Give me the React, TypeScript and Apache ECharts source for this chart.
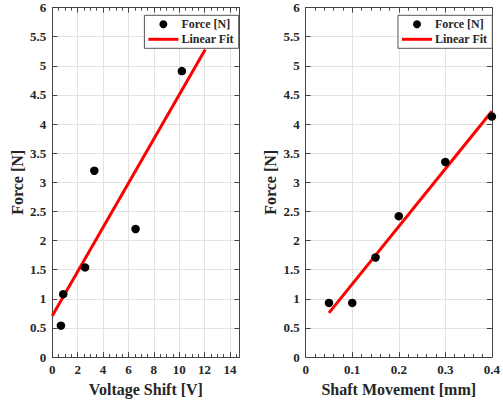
import React, { useEffect, useRef } from "react";
import * as echarts from "echarts";

// Left panel: Force vs Voltage Shift
const voltX = [0.68, 0.86, 2.58, 3.31, 6.56, 10.21];
const voltForce = [0.54, 1.08, 1.54, 3.2, 2.2, 4.91];
const voltFitX = [0, 12.05];
const voltFitY = [0.71, 5.28];
const voltMarkX = [0.55, 2.58, 4.48, 6.93, 8.99];
const voltMarkY = [0.93, 1.7, 2.41, 3.34, 4.13];

// Right panel: Force vs Shaft Movement
const shaftX = [0.05, 0.1, 0.15, 0.2, 0.3, 0.4];
const shaftForce = [0.93, 0.93, 1.71, 2.42, 3.35, 4.13];
const shaftFitX = [0.05, 0.4];
const shaftFitY = [0.76, 4.22];

const legendNames = ["Force [N]", "Linear Fit"];
const yTicks = { min: 0, max: 6, interval: 0.5 };

const FONT = "'Liberation Serif', 'Times New Roman', serif";
const TXT = "#262626";
const AX = "#444444";
const GRID = "#e2e2e2";

const pairs = (xs: number[], ys: number[]) => xs.map((x, i) => [x, ys[i]]);

export default function App() {
  const ref = useRef<HTMLDivElement>(null);
  useEffect(() => {
    if (!ref.current) return;
    const chart = echarts.init(ref.current, null, { renderer: "svg" });
    const grids = [
      { left: 52.3, top: 7.6, width: 187.2, height: 351.7 },
      { left: 305.7, top: 7.6, width: 192.6, height: 351.7 },
    ];
    const labelStyle = { color: TXT, fontFamily: FONT, fontWeight: "bold" as const, fontSize: 13 };
    const nameStyle = { color: TXT, fontFamily: FONT, fontWeight: "bold" as const, fontSize: 16 };
    const majorX = (grid: number, pos: string, min: number, max: number, interval: number, name?: string, minorSplit?: number) => ({
      type: "value",
      gridIndex: grid,
      position: pos,
      min,
      max,
      interval,
      name: name || "",
      nameLocation: "middle",
      nameGap: 20,
      nameTextStyle: nameStyle,
      axisLine: { show: true, onZero: false, lineStyle: { color: AX, width: 1 } },
      axisTick: { show: true, inside: true, length: 5, lineStyle: { color: AX } },
      minorTick: minorSplit ? { show: true, splitNumber: minorSplit, length: 3, lineStyle: { color: AX } } : { show: false },
      axisLabel: name
        ? {
            show: true,
            margin: 6,
            ...labelStyle,
            formatter: (v: number) => {
              const r = v / interval;
              return Math.abs(r - Math.round(r)) < 1e-6 ? String(+v.toFixed(3)) : "";
            },
          }
        : { show: false },
      splitLine: { show: pos === "bottom", lineStyle: { color: GRID, width: 1 } },
    });
    const minorX = (grid: number, pos: string, min: number, max: number, interval: number) => ({
      type: "value",
      gridIndex: grid,
      position: pos,
      min,
      max,
      interval,
      axisLine: { show: false, onZero: false },
      axisTick: { show: true, inside: true, length: 3, lineStyle: { color: AX } },
      axisLabel: { show: false },
      splitLine: { show: false },
    });
    const yAx = (grid: number, pos: string, withLabel: boolean) => ({
      type: "value",
      gridIndex: grid,
      position: pos,
      ...yTicks,
      name: withLabel ? "Force [N]" : "",
      nameLocation: "middle",
      nameGap: 27,
      nameTextStyle: nameStyle,
      axisLine: { show: true, onZero: false, lineStyle: { color: AX, width: 1 } },
      axisTick: { show: true, inside: true, length: 5, lineStyle: { color: AX } },
      axisLabel: withLabel ? { show: true, margin: 6, ...labelStyle } : { show: false },
      splitLine: { show: withLabel, lineStyle: { color: GRID, width: 1 } },
    });
    const legend = (right: number) => ({
      data: [
        { name: legendNames[0], icon: "circle" },
        { name: legendNames[1], icon: "path://M0,0L30,0L30,3L0,3Z" },
      ],
      orient: "vertical",
      right,
      top: 15.3,
      itemWidth: 30,
      itemHeight: 8,
      itemGap: 3,
      padding: [3, 5, 3, 4],
      backgroundColor: "#ffffff",
      borderColor: "#555555",
      borderWidth: 1,
      borderRadius: 0,
      textStyle: { color: TXT, fontFamily: FONT, fontWeight: "bold", fontSize: 12, padding: [0, 0, 0, -2] },
      selectedMode: false,
    });
    chart.setOption({
      animation: false,
      backgroundColor: "#ffffff",
      textStyle: { fontFamily: FONT, fontWeight: "bold", color: TXT },
      grid: grids,
      legend: [legend(264.3), legend(10.7)],
      xAxis: [
        majorX(0, "bottom", 0, 14.75, 2, "Voltage Shift [V]"),
        minorX(0, "bottom", 0, 14.75, 0.5),
        majorX(0, "top", 0, 14.75, 2),
        minorX(0, "top", 0, 14.75, 0.5),
        majorX(1, "bottom", 0, 0.4, 0.1, "Shaft Movement [mm]", 5),
        majorX(1, "top", 0, 0.4, 0.1, undefined, 5),
      ],
      yAxis: [yAx(0, "left", true), yAx(0, "right", false), yAx(1, "left", true), yAx(1, "right", false)],
      series: [
        {
          type: "scatter",
          name: "fit points",
          xAxisIndex: 0,
          yAxisIndex: 0,
          data: pairs(voltMarkX, voltMarkY),
          symbol: "emptyCircle",
          symbolSize: 6,
          itemStyle: { color: "#ffffff", borderColor: "#ff8c8c", borderWidth: 0.8, opacity: 1 },
          z: 2,
        },
        {
          type: "line",
          name: "Linear Fit",
          xAxisIndex: 0,
          yAxisIndex: 0,
          data: pairs(voltFitX, voltFitY),
          symbol: "none",
          lineStyle: { color: "#ff0000", width: 3 },
          itemStyle: { color: "#ff0000" },
          z: 3,
        },
        {
          type: "scatter",
          name: "Force [N]",
          xAxisIndex: 0,
          yAxisIndex: 0,
          data: pairs(voltX, voltForce),
          symbol: "circle",
          symbolSize: 8.5,
          itemStyle: { color: "#000000", opacity: 1 },
          z: 4,
        },
        {
          type: "line",
          name: "Linear Fit",
          xAxisIndex: 4,
          yAxisIndex: 2,
          data: pairs(shaftFitX, shaftFitY),
          symbol: "none",
          lineStyle: { color: "#ff0000", width: 3 },
          itemStyle: { color: "#ff0000" },
          z: 3,
        },
        {
          type: "scatter",
          name: "Force [N]",
          xAxisIndex: 4,
          yAxisIndex: 2,
          data: pairs(shaftX, shaftForce),
          symbol: "circle",
          symbolSize: 8.5,
          itemStyle: { color: "#000000", opacity: 1 },
          z: 4,
          clip: false,
        },
      ],
    });
    return () => chart.dispose();
  }, []);
  return <div ref={ref} style={{ position: "absolute", left: 0, top: 0, width: 503, height: 402 }} />;
}
